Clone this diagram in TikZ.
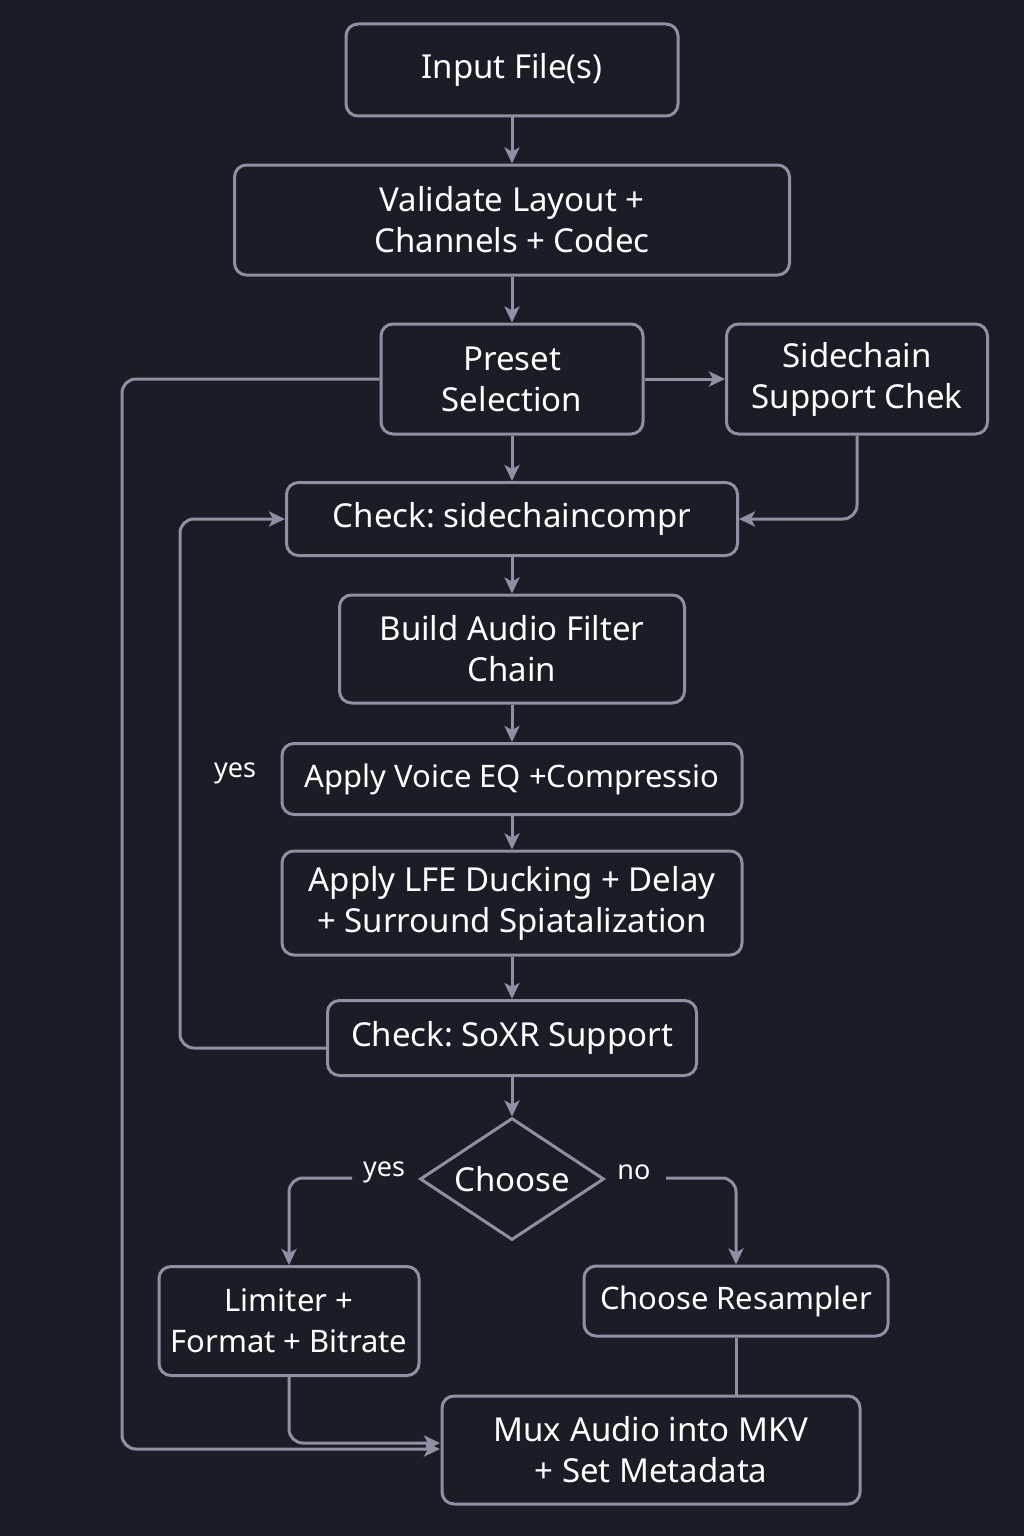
\documentclass[tikz,border=0pt]{standalone}
\usepackage{fontspec}
\setmainfont{Noto Sans}
\usetikzlibrary{arrows.meta,shapes.geometric,positioning}
\definecolor{bgc}{HTML}{1B1D26}
\definecolor{linec}{HTML}{8E90A3}
\frenchspacing
\tikzset{
  flowbox/.style={draw=linec, line width=3pt, rounded corners=12pt, fill=bgc, text=white, align=center, inner sep=0pt, font=\fontsize{33}{41}\selectfont},
  narrowtext/.style={font=\fontsize{31}{41}\selectfont},
  conn/.style={draw=linec, line width=3pt, rounded corners=14pt, -{Stealth[length=16pt,width=15pt,inset=4pt]}},
  plain/.style={draw=linec, line width=3pt, rounded corners=14pt},
  lbl/.style={text=white, font=\fontsize{27}{30}\selectfont, inner sep=2pt},
}
\begin{document}
\begin{tikzpicture}[x=1pt,y=-1pt]
\fill[bgc] (0,0) rectangle (1024,1536);
\useasboundingbox (0,0) rectangle (1024,1536);

\node[flowbox, minimum width=332pt, minimum height=92pt] (in) at (512,70) {Input File(s)};
\node[flowbox, minimum width=555pt, minimum height=110pt] (val) at (512,220) {Validate Layout +\\Channels + Codec};
\node[flowbox, minimum width=262pt, minimum height=110pt] (pre) at (512,379) {Preset\\Selection};
\node[flowbox, minimum width=261pt, minimum height=110pt] (sc) at (857,379) {Sidechain\\Support Chek};
\node[flowbox, minimum width=451pt, minimum height=73pt] (chk) at (512,519) {Check: sidechaincompr};
\node[flowbox, minimum width=345pt, minimum height=108pt] (bld) at (512,649) {Build Audio Filter\\Chain};
\node[flowbox, narrowtext, minimum width=460pt, minimum height=71pt] (eq) at (512,779) {Apply Voice EQ +Compressio};
\node[flowbox, minimum width=460pt, minimum height=104pt] (lfe) at (512,903) {Apply LFE Ducking + Delay\\+ Surround Spiatalization};
\node[flowbox, minimum width=369pt, minimum height=75pt] (soxr) at (512,1038) {Check: SoXR Support};
\node[draw=linec, line width=3pt, diamond, aspect=1.5, fill=bgc, text=white, inner sep=0pt, minimum width=184pt, minimum height=122pt, font=\fontsize{33}{36}\selectfont] (ch) at (512,1179) {Choose};
\node[flowbox, narrowtext, minimum width=260pt, minimum height=109pt] (lim) at (289,1321) {Limiter +\\Format + Bitrate};
\node[flowbox, narrowtext, minimum width=304pt, minimum height=70pt] (rs) at (736,1301) {Choose Resampler};
\node[flowbox, minimum width=418pt, minimum height=108pt] (mux) at (651,1450) {Mux Audio into MKV\\+ Set Metadata};

\node[lbl] (yes1) at (235,773) {yes};
\node[lbl] (yes2) at (384,1172) {yes};
\node[lbl] (no1) at (634,1172) {no};

\coordinate (ya) at (352,1178);
\coordinate (na) at (666,1178);
\coordinate (sxo) at (328,1048);
\coordinate (muxa) at (440,1443);
\coordinate (muxb) at (440,1449);

\draw[conn] (in) -- (val);
\draw[conn] (val) -- (pre);
\draw[conn] (pre) -- (chk);
\draw[conn] (pre) -- (sc);
\draw[conn] (sc.south) |- (chk.east);
\draw[conn] (chk) -- (bld);
\draw[conn] (bld) -- (eq);
\draw[conn] (eq) -- (lfe);
\draw[conn] (lfe) -- (soxr);
\draw[conn] (soxr) -- (ch);
\draw[conn] (sxo) -- (180,1048) -- (180,519) -- (chk.west);
\draw[conn] (pre.west) -- (122,379) -- (122,1449) -- (muxb);
\draw[conn] (lim.south) -- (289,1443) -- (muxa);
\draw[conn] (ya) -| (lim.north);
\draw[conn] (na) -| (rs.north);
\draw[plain] (rs.south) -- (mux.north -| rs.south);
\end{tikzpicture}
\end{document}
